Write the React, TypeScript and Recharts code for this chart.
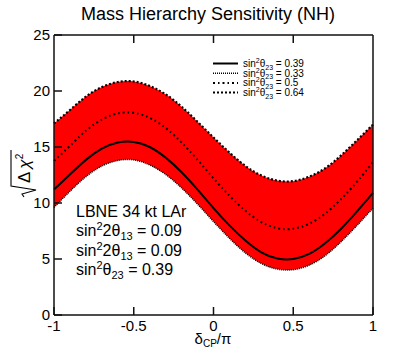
import React from "react";
import { ComposedChart, Area, Line, XAxis, YAxis } from "recharts";

const deltaCP = [-1, -0.9, -0.8, -0.7, -0.6, -0.5, -0.4, -0.3, -0.2, -0.1, 0, 0.1, 0.2, 0.3, 0.4, 0.5, 0.6, 0.7, 0.8, 0.9, 1];
const s23_064 = [17.1, 18.3, 19.5, 20.35, 20.8, 20.85, 20.45, 19.7, 18.6, 17.25, 15.85, 14.5, 13.3, 12.45, 12.0, 11.95, 12.35, 13.1, 14.25, 15.6, 17.0];
const s23_050 = [13.75, 15.1, 16.45, 17.45, 18.0, 18.05, 17.6, 16.7, 15.4, 13.85, 12.2, 10.65, 9.3, 8.3, 7.75, 7.7, 8.15, 9.05, 10.35, 11.9, 13.65];
const s23_039 = [11.2, 12.55, 13.85, 14.85, 15.4, 15.45, 15.0, 14.05, 12.75, 11.2, 9.55, 8.0, 6.65, 5.6, 5.05, 5.0, 5.45, 6.4, 7.7, 9.25, 10.9];
const s23_033 = [9.6, 11.05, 12.35, 13.3, 13.8, 13.85, 13.4, 12.55, 11.35, 9.9, 8.35, 6.85, 5.55, 4.6, 4.1, 4.05, 4.45, 5.3, 6.55, 8.0, 9.55];

const xTicks = [-1, -0.5, 0, 0.5, 1];
const yTicks = [0, 5, 10, 15, 20, 25];
const legendItems = [
  { value: "0.39", dash: undefined as string | undefined, width: 2 },
  { value: "0.33", dash: "1 1", width: 1.5 },
  { value: "0.5", dash: "2 3 1.5 3", width: 2 },
  { value: "0.64", dash: "2 2", width: 2 },
];

const data = deltaCP.map((x, i) => ({
  x,
  band: [s23_033[i], s23_064[i]],
  a: s23_064[i],
  b: s23_050[i],
  c: s23_039[i],
  d: s23_033[i],
}));

const FONT = "'Liberation Sans', Arial, Helvetica, sans-serif";
const TL = 8;

const BottomTick = (p: any) => (
  <g>
    <line x1={p.x} y1={p.y} x2={p.x} y2={p.y - TL} stroke="#111" strokeWidth={1.5} />
    <text x={p.x} y={p.y + 16} textAnchor="middle" fontSize={15} fontFamily={FONT} fill="#000">
      {String(p.payload.value)}
    </text>
  </g>
);
const TopTick = (p: any) => (
  <line x1={p.x} y1={p.y} x2={p.x} y2={p.y + TL} stroke="#111" strokeWidth={1.5} />
);
const LeftTick = (p: any) => (
  <g>
    <line x1={p.x} y1={p.y} x2={p.x + TL} y2={p.y} stroke="#111" strokeWidth={1.5} />
    <text x={p.x - 4} y={p.y + 4.5} textAnchor="end" fontSize={15} fontFamily={FONT} fill="#000">
      {String(p.payload.value)}
    </text>
  </g>
);
const RightTick = (p: any) => (
  <line x1={p.x} y1={p.y} x2={p.x - TL} y2={p.y} stroke="#111" strokeWidth={1.5} />
);

export default function App() {
  return (
    <div style={{ position: "absolute", left: 0, top: 0, width: 415, height: 351, background: "#fff" }}>
      <ComposedChart width={415} height={351} data={data} margin={{ top: 0, right: 0, bottom: 0, left: 0 }}>
        <XAxis
          xAxisId="b"
          type="number"
          dataKey="x"
          domain={[-1, 1]}
          ticks={xTicks}
          height={36}
          tickSize={0}
          tickMargin={0}
          tickLine={false}
          axisLine={{ stroke: "#111", strokeWidth: 1.5 }}
          tick={<BottomTick />}
          interval={0}
        />
        <XAxis
          xAxisId="t"
          orientation="top"
          type="number"
          dataKey="x"
          domain={[-1, 1]}
          ticks={[-0.5, 0, 0.5]}
          height={35}
          tickSize={0}
          tickMargin={0}
          tickLine={false}
          axisLine={{ stroke: "#111", strokeWidth: 1.5 }}
          tick={<TopTick />}
          interval={0}
        />
        <YAxis
          yAxisId="l"
          type="number"
          domain={[0, 25]}
          ticks={yTicks}
          width={54}
          tickSize={0}
          tickMargin={0}
          tickLine={false}
          axisLine={{ stroke: "#111", strokeWidth: 1.5 }}
          tick={<LeftTick />}
          interval={0}
        />
        <YAxis
          yAxisId="r"
          orientation="right"
          type="number"
          domain={[0, 25]}
          ticks={[5, 10, 15, 20]}
          width={42}
          tickSize={0}
          tickMargin={0}
          tickLine={false}
          axisLine={{ stroke: "#111", strokeWidth: 1.5 }}
          tick={<RightTick />}
          interval={0}
        />
        <Area
          xAxisId="b"
          yAxisId="l"
          type="natural"
          dataKey="band"
          stroke="none"
          fill="#ff0000"
          fillOpacity={1}
          isAnimationActive={false}
          dot={false}
          activeDot={false}
        />
        <Line xAxisId="b" yAxisId="l" type="natural" dataKey="a" stroke="#000" strokeWidth={2.2} strokeDasharray="2 2" dot={false} isAnimationActive={false} />
        <Line xAxisId="b" yAxisId="l" type="natural" dataKey="d" stroke="#000" strokeWidth={1.5} strokeDasharray="1 1" dot={false} isAnimationActive={false} />
        <Line xAxisId="b" yAxisId="l" type="natural" dataKey="b" stroke="#000" strokeWidth={2} strokeDasharray="2 3 1.5 3" dot={false} isAnimationActive={false} />
        <Line xAxisId="b" yAxisId="l" type="natural" dataKey="c" stroke="#000" strokeWidth={2} dot={false} isAnimationActive={false} />
      </ComposedChart>
      <svg width={415} height={351} style={{ position: "absolute", left: 0, top: 0, pointerEvents: "none" }}>
        <text x={208} y={20} textAnchor="middle" fontSize={18} fontFamily={FONT} fill="#000">
          Mass Hierarchy Sensitivity (NH)
        </text>
        <text x={213} y={344} textAnchor="middle" fontSize={15} fontFamily={FONT} fill="#000">
          <tspan>δ</tspan>
          <tspan fontSize={10} dy={3}>CP</tspan>
          <tspan dy={-3}>/π</tspan>
        </text>
        <g transform="translate(30,173) rotate(-90)">
          <path d="M -24 -6 L -21 -8 L -17 6 L -13 -19 L 23 -19" fill="none" stroke="#000" strokeWidth={1.1} />
          <text x={-10} y={0} fontSize={17} fontFamily={FONT} fill="#000">
            <tspan>Δ</tspan>
            <tspan dx={3} fontStyle="italic">χ</tspan>
            <tspan fontSize={10} dy={-7}>2</tspan>
          </text>
        </g>
        <g fontFamily={FONT} fontSize={16} fill="#000">
          <text x={76} y={217}>LBNE 34 kt LAr</text>
          <text x={76} y={236}>
            sin<tspan fontSize={11} dy={-6}>2</tspan><tspan dy={6}>2θ</tspan><tspan fontSize={11} dy={4}>13</tspan><tspan dy={-4}> = 0.09</tspan>
          </text>
          <text x={76} y={256}>
            sin<tspan fontSize={11} dy={-6}>2</tspan><tspan dy={6}>2θ</tspan><tspan fontSize={11} dy={4}>13</tspan><tspan dy={-4}> = 0.09</tspan>
          </text>
          <text x={76} y={275}>
            sin<tspan fontSize={11} dy={-6}>2</tspan><tspan dy={6}>θ</tspan><tspan fontSize={11} dy={4}>23</tspan><tspan dy={-4}> = 0.39</tspan>
          </text>
        </g>
        <g fontFamily={FONT} fill="#000">
          {legendItems.map((it, i) => {
            const cy = 63.5 + i * 9.7;
            return (
              <g key={it.value}>
                <line x1={213} x2={238} y1={cy} y2={cy} stroke="#000" strokeWidth={it.width} strokeDasharray={it.dash} />
                <text x={243} y={cy + 3.5} fontSize={10}>
                  sin<tspan fontSize={7} dy={-4}>2</tspan><tspan dy={4}>θ</tspan><tspan fontSize={7} dy={2.5}>23</tspan><tspan dy={-2.5}> = {it.value}</tspan>
                </text>
              </g>
            );
          })}
        </g>
      </svg>
    </div>
  );
}
